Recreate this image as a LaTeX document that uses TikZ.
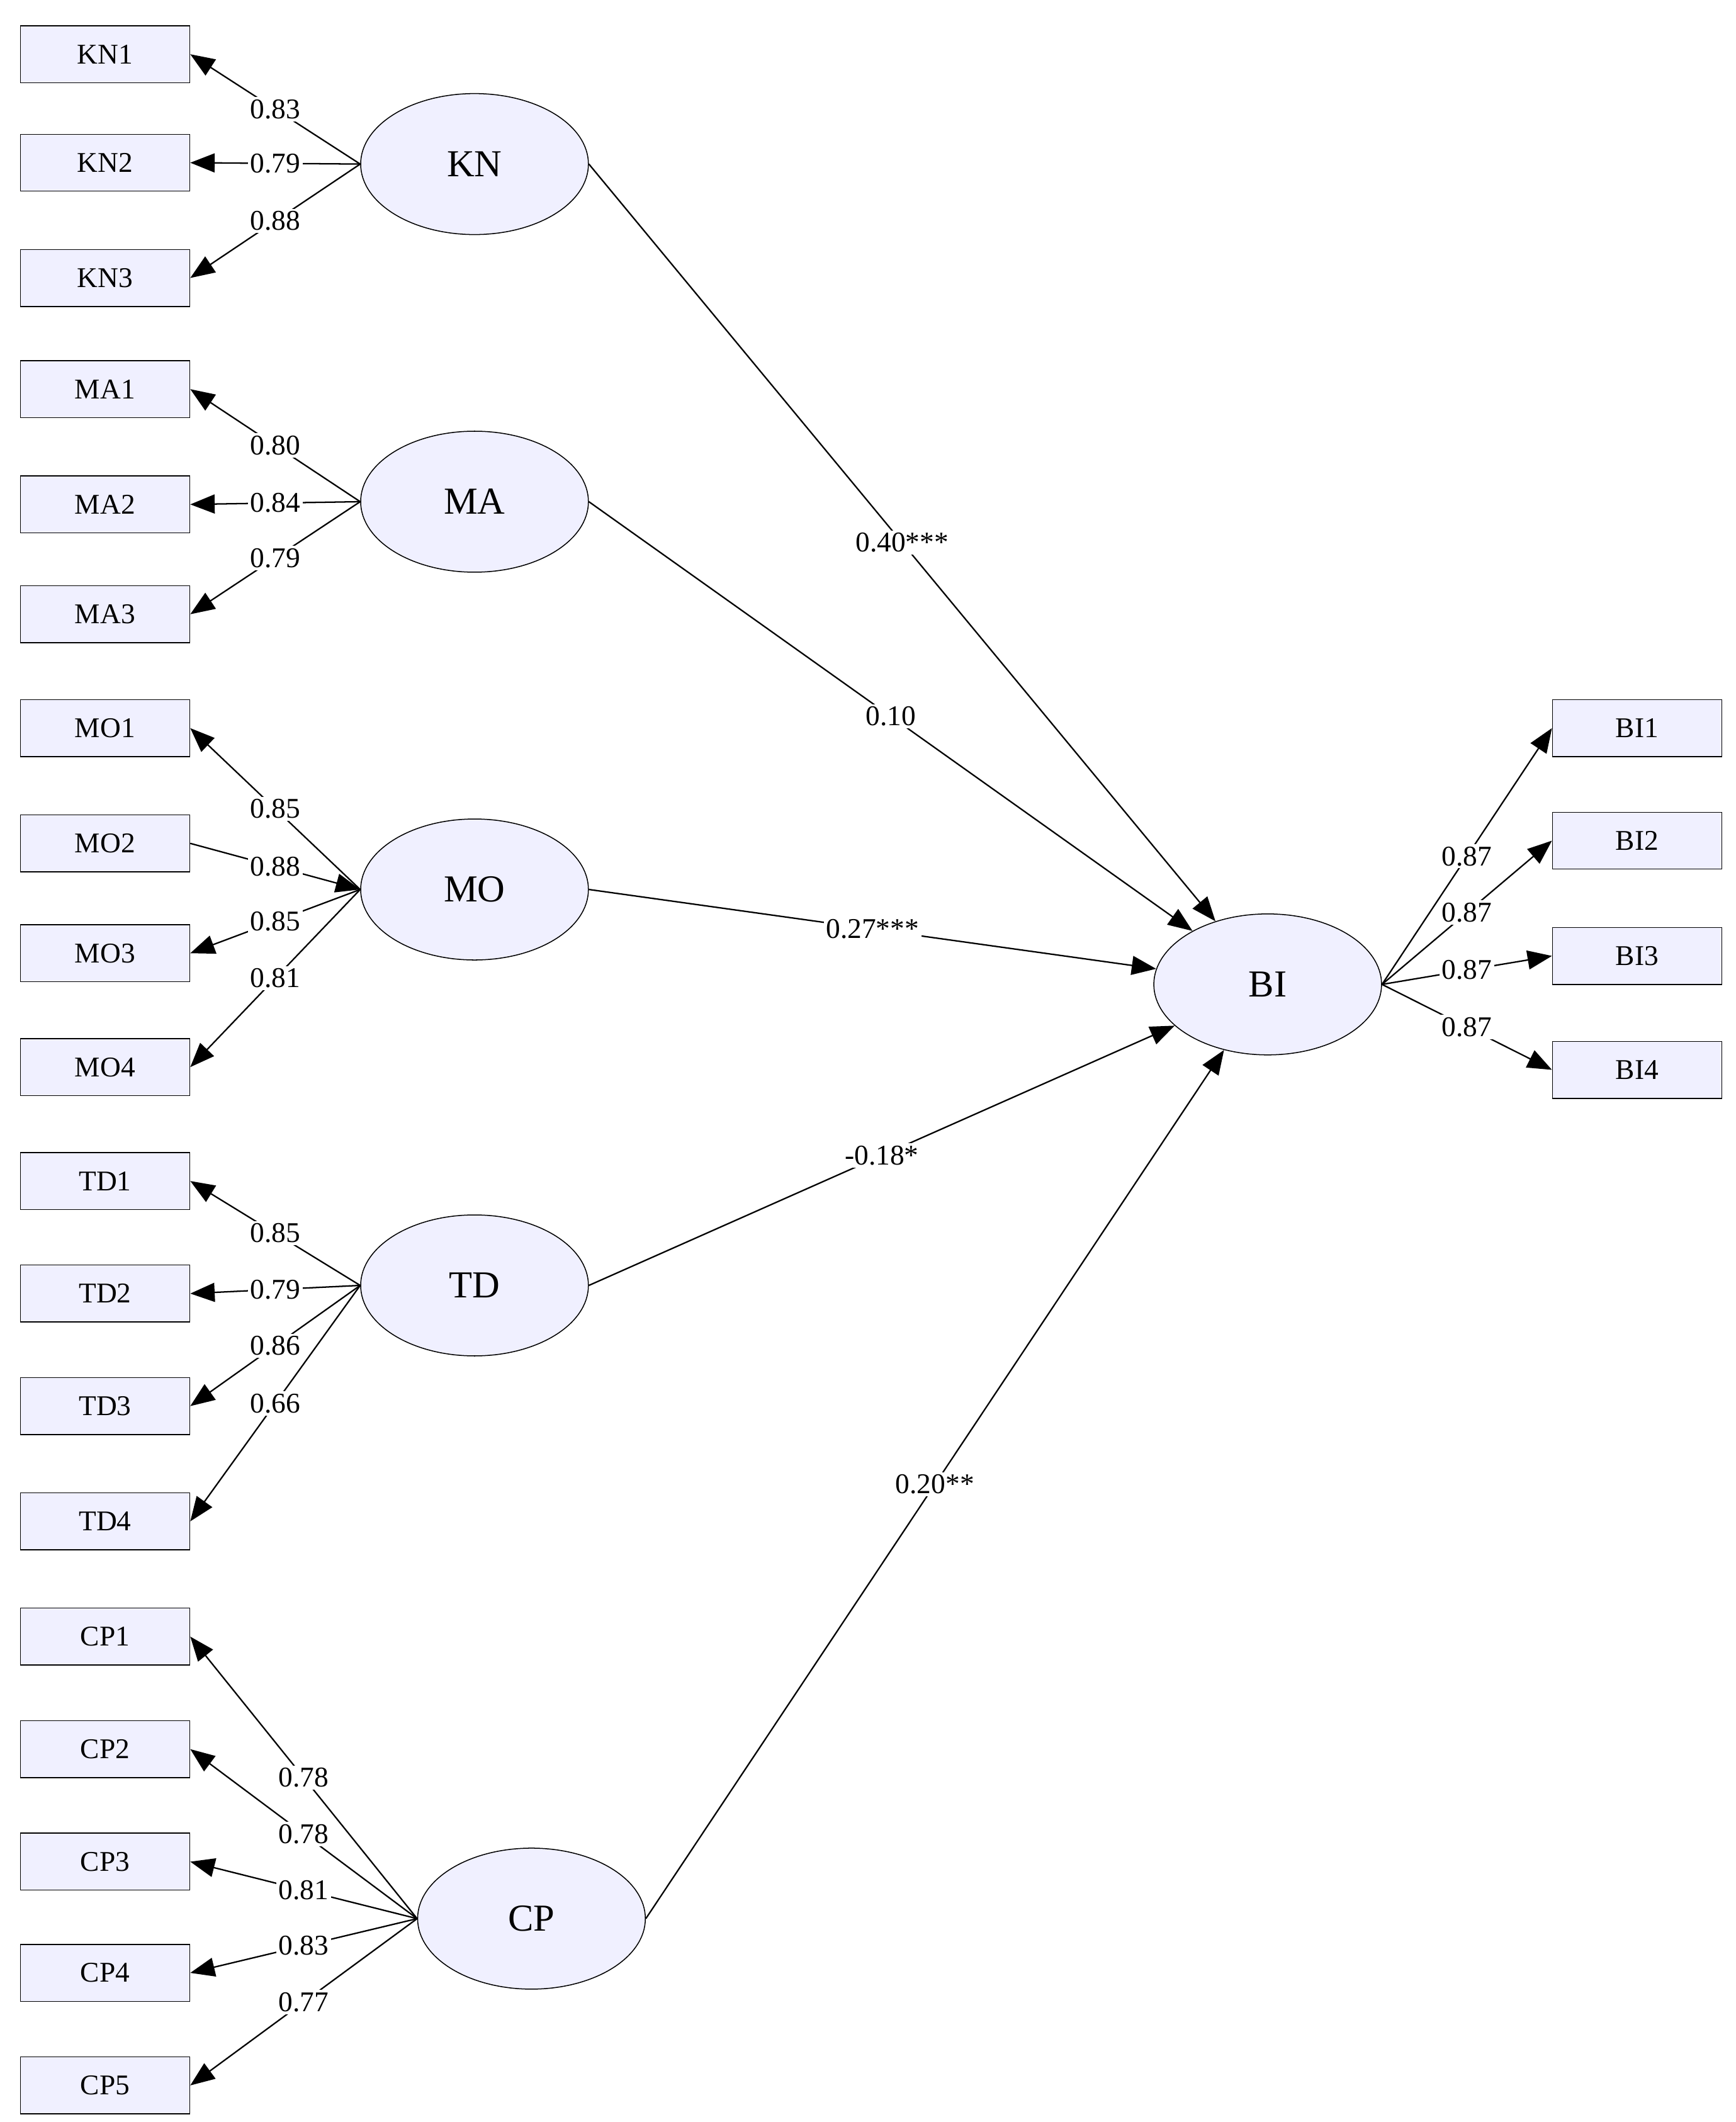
\documentclass[tikz,border=0pt]{standalone}
\usepackage{fontspec}
\setmainfont{Liberation Serif}
\usetikzlibrary{arrows.meta,shapes.geometric}
\begin{document}
\begin{tikzpicture}[x=0.02cm,y=-0.02cm,
 box/.style={draw,fill=blue!6!white,minimum width=2.5cm,minimum height=0.84cm,inner sep=0pt,font=\fontsize{12}{14}\selectfont},
 lat/.style={draw,ellipse,fill=blue!6!white,minimum width=3.36cm,minimum height=2.08cm,font=\fontsize{16}{18}\selectfont},
 ar/.style={line width=0.6pt,-{Triangle[length=0.36cm,width=0.28cm]}},
 lb/.style={fill=white,inner sep=1pt,font=\fontsize{12}{14}\selectfont}]
\useasboundingbox (0,0) rectangle (1280,1565);
\foreach \n/\y in {KN1/40,KN2/120,KN3/205,MA1/287,MA2/372,MA3/453,MO1/537,MO2/622,MO3/703,MO4/787,TD1/871,TD2/954,TD3/1037,TD4/1122,CP1/1207,CP2/1290,CP3/1373,CP4/1455,CP5/1538}
  \node[box] (\n) at (77.5,\y) {\n};
\foreach \n/\y in {BI1/537,BI2/620,BI3/705,BI4/789}
  \node[box] (\n) at (1207.5,\y) {\n};
\node[lat] (KN) at (350,121) {KN};
\node[lat] (MA) at (350,370) {MA};
\node[lat] (MO) at (350,656) {MO};
\node[lat] (TD) at (350,948) {TD};
\node[lat] (CP) at (392,1415) {CP};
\node[lat] (BI) at (935,726) {BI};
\foreach \l/\i/\v in {KN/1/0.83,KN/2/0.79,KN/3/0.88,MA/1/0.80,MA/2/0.84,MA/3/0.79,MO/1/0.85,MO/3/0.85,MO/4/0.81,TD/1/0.85,TD/2/0.79,TD/3/0.86,TD/4/0.66,CP/1/0.78,CP/2/0.78,CP/3/0.81,CP/4/0.83,CP/5/0.77}
  \draw[ar] (\l.west) -- node[lb,pos=0.5]{\v} (\l\i.east);
\draw[ar] (MO2.east) -- node[lb,pos=0.5]{0.88} (MO.west);
\foreach \i in {1,2,3,4}
  \draw[ar] (BI.east) -- node[lb,pos=0.5]{0.87} (BI\i.west);
\draw[ar] (KN.east) -- node[lb]{0.40***} (BI);
\draw[ar] (MA.east) -- node[lb]{0.10} (BI);
\draw[ar] (MO.east) -- node[lb]{0.27***} (BI);
\draw[ar] (TD.east) -- node[lb]{-0.18*} (BI);
\draw[ar] (CP.east) -- node[lb]{0.20**} (BI);
\end{tikzpicture}
\end{document}
